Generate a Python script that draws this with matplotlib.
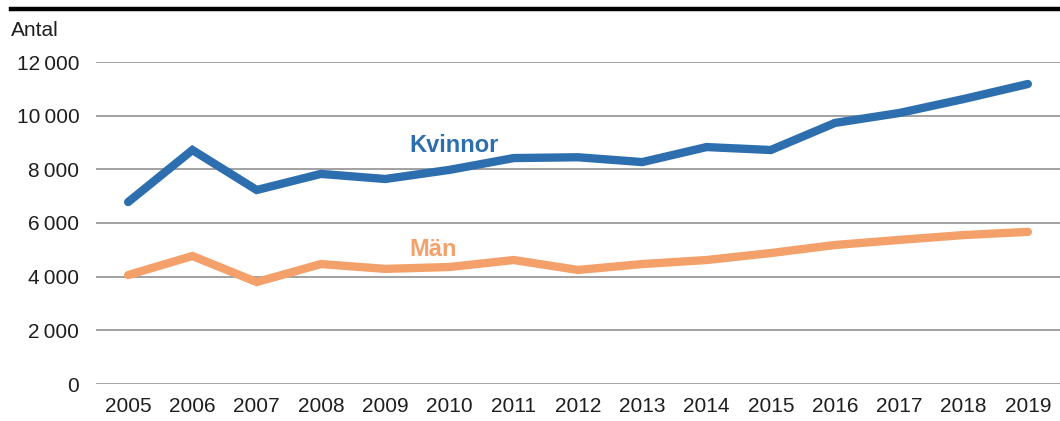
import matplotlib
matplotlib.use("Agg")
import matplotlib.pyplot as plt
from matplotlib.lines import Line2D
from matplotlib.ticker import FuncFormatter

years = list(range(2005, 2020))
kvinnor = [6780, 8720, 7230, 7830, 7640, 7980, 8420, 8450, 8270, 8830, 8720, 9730, 10100, 10620, 11180]
man = [4060, 4770, 3800, 4470, 4290, 4360, 4620, 4250, 4470, 4620, 4880, 5180, 5370, 5550, 5670]
y_ticks = [0, 2000, 4000, 6000, 8000, 10000, 12000]

color_kvinnor = "#2d6fae"
color_man = "#f4a06a"
text_color = "#1e1e1e"

plt.rcParams["font.family"] = ["Liberation Sans", "DejaVu Sans"]

fig = plt.figure(figsize=(10.6, 4.21), dpi=100)
ax = fig.add_axes([96 / 1060, 37 / 421, 964 / 1060, 322 / 421])

ax.plot(years, kvinnor, color=color_kvinnor, linewidth=6, solid_capstyle="round",
        solid_joinstyle="miter", zorder=3)
ax.plot(years, man, color=color_man, linewidth=6, solid_capstyle="round",
        solid_joinstyle="miter", zorder=3)

ax.text(2009.38, 8900, "Kvinnor", color=color_kvinnor, fontsize=17,
        fontweight="bold", va="center", ha="left")
ax.text(2009.38, 5030, "Män", color=color_man, fontsize=17,
        fontweight="bold", va="center", ha="left")

ax.set_xlim(2004.5, 2019.5)
ax.set_ylim(0, 12000)
ax.set_xticks(years)
ax.set_yticks(y_ticks)
ax.yaxis.set_major_formatter(FuncFormatter(lambda v, p: f"{int(v):,}".replace(",", "\u2009")))
ax.tick_params(axis="both", length=0, labelsize=15, colors=text_color)
ax.tick_params(axis="y", pad=12)
ax.tick_params(axis="x", pad=9)
ax.grid(axis="y", color="#9a9a9a", linewidth=1.3, zorder=1)
ax.set_axisbelow(True)
for s in ax.spines.values():
    s.set_visible(False)

fig.text(11 / 1060, 1 - 31 / 421, "Antal", fontsize=15, color=text_color,
         ha="left", va="center")
fig.add_artist(Line2D([11 / 1060, 1.0], [1 - 9 / 421, 1 - 9 / 421],
                      color="black", linewidth=3.2, transform=fig.transFigure))

fig.savefig("out.png", dpi=100)
